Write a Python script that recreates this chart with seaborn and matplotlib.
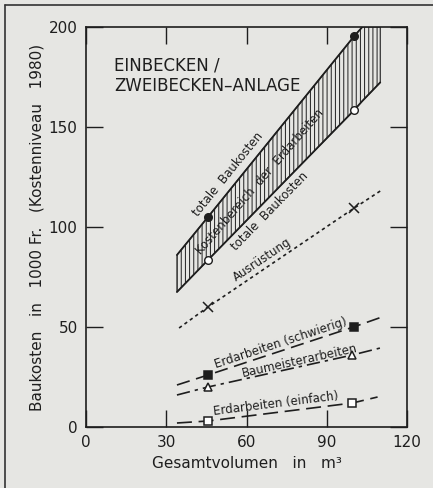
import numpy as np
import pandas as pd
import seaborn as sns
import matplotlib.pyplot as plt
from matplotlib.lines import Line2D

# values
band_vol = [34, 45.6, 100.3, 103.3, 110]
band_hi = [86, 105, 195.5, 200, 200]
band_lo = [67.5, 83.5, 158.5, 163, 172.3]

ausr_vol = [34.8, 45.6, 100.3, 110]
ausr_cost = [49.5, 60, 109.5, 118]

schw_vol = [34, 45.6, 100, 110]
schw_cost = [21, 26, 50, 54.7]

baum_vol = [34, 45.6, 99.6, 110]
baum_cost = [16, 20, 36, 39.5]

einf_vol = [34, 45.6, 99.6, 109]
einf_cost = [2, 3, 12, 15]

x_ticks = [0, 30, 60, 90, 120]
y_ticks = [0, 50, 100, 150, 200]

ink = '#1e1e1e'
paper = '#e6e6e3'

sns.set_theme(style='ticks')
plt.rcParams['font.family'] = ['DejaVu Sans']
plt.rcParams['hatch.linewidth'] = 0.7

fig = plt.figure(figsize=(4.33, 4.88), dpi=100, facecolor=paper)
ax = fig.add_axes([86 / 433, 61 / 488, 321 / 433, 400 / 488])
ax.set_facecolor(paper)
ax.set_xlim(0, 120)
ax.set_ylim(0, 200)

# hatched range of total costs
ax.fill_between(band_vol, band_lo, band_hi, facecolor='none', hatch='||||',
                edgecolor=ink, linewidth=0.8)

# upper and lower total cost lines
sns.lineplot(x=band_vol[:4], y=band_hi[:4], color=ink, lw=1.3, ax=ax)
sns.lineplot(x=band_vol, y=band_lo, color=ink, lw=1.3, ax=ax)
ax.plot(band_vol[1:3], band_hi[1:3], 'o', ms=5.5, color=ink, mfc=ink)
ax.plot(band_vol[1:3], band_lo[1:3], 'o', ms=5.5, color=ink, mfc='white', mew=1)

# other cost components
series = [
    (ausr_vol, ausr_cost, (0, (2, 2)), 'x', 'none'),
    (schw_vol, schw_cost, (0, (8, 4)), 's', ink),
    (baum_vol, baum_cost, (0, (8, 3, 2, 3)), '^', 'white'),
    (einf_vol, einf_cost, (0, (9, 4)), 's', 'white'),
]
for vol, cost, dash, mk, fill in series:
    ax.plot(vol, cost, color=ink, lw=1.2, linestyle=dash)
    ax.plot(vol[1:3], cost[1:3], mk, ms=7 if mk == 'x' else 5.5, color=ink,
            mfc=fill, mew=1.1)


def label_on_line(txt, vol, cost, x, offset, turn=0):
    # place text along a line, shifted perpendicular by offset (pixels)
    p1 = ax.transData.transform((vol[1], cost[1]))
    p2 = ax.transData.transform((vol[2], cost[2]))
    ang = np.arctan2(p2[1] - p1[1], p2[0] - p1[0])
    y = np.interp(x, vol, cost)
    dx, dy = -np.sin(ang) * offset, np.cos(ang) * offset
    ax.annotate(txt, xy=(x, y), xytext=(dx * 0.72, dy * 0.72),
                textcoords='offset points', rotation=np.degrees(ang) + turn,
                rotation_mode='anchor', ha='center', va='center',
                fontsize=8.5, color=ink)


label_on_line('totale  Baukosten', band_vol, band_hi, 56.4, 11)
label_on_line('Kostenbereich  der  Erdarbeiten', band_vol, band_hi, 59.8, -18, -2)
label_on_line('totale  Baukosten', band_vol, band_lo, 65.9, -10)
label_on_line('Ausrüstung', ausr_vol, ausr_cost, 67.7, 8.5)
label_on_line('Erdarbeiten (schwierig)', schw_vol, schw_cost, 73.6, 7.5)
label_on_line('Baumeisterarbeiten', baum_vol, baum_cost, 80.4, 6)
label_on_line('Erdarbeiten (einfach)', einf_vol, einf_cost, 71.4, 8.5)

ax.text(10.5, 185.5, 'EINBECKEN /\nZWEIBECKEN\u2013ANLAGE', fontsize=12,
        color=ink, va='top', ha='left', linespacing=1.2)

ax.set_xticks(x_ticks)
ax.set_yticks(y_ticks)
ax.tick_params(direction='in', length=12, width=1, colors=ink, labelsize=11,
               top=True, right=True, pad=6)
for s in ax.spines.values():
    s.set_color(ink)
    s.set_linewidth(1.2)

ax.set_xlabel('Gesamtvolumen   in   m³', fontsize=11, color=ink, labelpad=4)
ax.set_ylabel('Baukosten   in   1000 Fr.   (Kostenniveau   1980)', fontsize=11,
              color=ink, labelpad=3)

# frame of the scanned page
fig.add_artist(Line2D([5 / 433, 5 / 433], [0, 483 / 488], color='#333333', lw=1.2))
fig.add_artist(Line2D([5 / 433, 1], [483 / 488, 483 / 488], color='#333333', lw=1.2))

fig.savefig('out.png', dpi=100, facecolor=paper)
